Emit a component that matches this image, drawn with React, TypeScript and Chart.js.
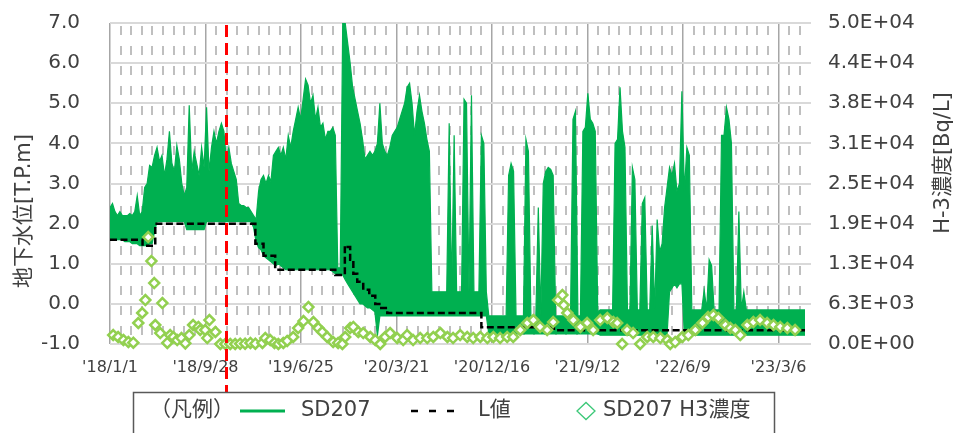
import React, { useEffect, useRef } from 'react';
import { Chart, registerables } from 'chart.js';

Chart.register(...registerables);

const FONT = '"DejaVu Sans", "Noto Sans CJK JP", sans-serif';
const TEXT = '#404040';

// x axis in days since 2018-01-01
const xMaxDay = 1965;
const majorTickDays = [0, 270, 540, 810, 1080, 1350, 1620, 1890];
const majorTickLabels = ["'18/1/1", "'18/9/28", "'19/6/25", "'20/3/21", "'20/12/16", "'21/9/12", "'22/6/9", "'23/3/6"];
const minorStepDays = 30;

const leftMin = -1;
const leftMax = 7;
const rightMax = 50000;
const rightStep = 6250;
const rightTickLabels = ['0.0E+00', '6.3E+03', '1.3E+04', '1.9E+04', '2.5E+04', '3.1E+04', '3.8E+04', '4.4E+04', '5.0E+04'];

// SD207 groundwater level, weekly high / low envelope (T.P.m)
const sdStepDays = 7;
const sdHigh = [
  2.4, 2.5, 2.3, 2.2, 2.3, 2.2, 2.2, 2.2, 2.25, 2.2,
  2.3, 2.7, 2.2, 2.3, 2.9, 3.0, 3.45, 3.4, 3.7, 3.9,
  3.55, 3.7, 3.2, 3.6, 4.3, 3.5, 3.3, 3.95, 3.6, 3.0,
  2.7, 2.9, 4.95, 3.3, 3.8, 3.5, 3.2, 3.9, 3.4, 4.9,
  3.3, 3.9, 4.3, 4.0, 4.3, 4.5, 4.3, 3.6, 3.9, 3.5,
  3.3, 3.1, 2.5, 2.45, 2.45, 2.4, 2.4, 2.3, 2.2, 2.1,
  2.8, 3.1, 3.2, 3.0, 3.2, 3.05, 3.7, 3.8, 3.9, 3.7,
  3.9, 3.6, 4.2, 3.9, 4.3, 4.6, 4.9, 4.6, 5.1, 5.6,
  5.45, 5.0, 5.2, 4.6, 4.9, 4.4, 4.5, 4.1, 4.3, 4.3,
  4.4, 4.2, 0.9, 0.9, 7.0, 7.0, 6.5, 6.0, 5.4, 5.1,
  4.8, 4.5, 4.1, 3.6, 3.7, 3.8, 3.7, 3.8, 4.0, 5.0,
  4.0, 3.8, 3.7, 3.9, 4.2, 4.3, 4.4, 4.6, 4.8, 5.0,
  5.4, 5.5, 5.0, 4.2, 4.8, 5.2, 4.8, 4.5, 4.1, 3.8,
  0.3, 0.3, 0.3, 0.3, 0.3, 0.3, 0.3, 4.5, 0.3, 4.2,
  0.3, 0.3, 0.3, 5.1, 5.0, 0.3, 5.2, 0.3, 0.3, 0.3,
  4.2, 4.0, 0.3, -0.3, -0.3, -0.3, -0.3, -0.3, -0.3, -0.3,
  -0.3, 3.2, 3.5, 3.3, -0.3, -0.3, -0.3, -0.3, 4.1, 3.8,
  -0.3, -0.3, -0.3, 2.4, -0.3, 3.0, 3.3, 3.4, 3.35, 3.2,
  -0.3, -0.3, -0.3, -0.3, -0.3, -0.3, -0.3, 4.6, 4.8, -0.3,
  -0.3, 4.3, 4.4, 5.25, 4.6, 4.5, 4.3, -0.2, -0.15, -0.15,
  -0.15, -0.15, -0.15, -0.15, 4.0, 4.1, 5.4, 4.3, 3.9, -0.15,
  -0.15, 3.4, 3.1, -0.15, -0.15, 2.5, 2.65, -0.15, -0.15, 1.95,
  -0.15, 2.1, 1.3, 1.5, 2.4, 2.9, 3.4, 3.2, 3.5, 2.8,
  3.0, 5.3, 2.8, 3.9, 3.7, -0.15, -0.15, -0.15, -0.15, -0.15,
  0.35, -0.15, 1.1, 0.95, -0.15, -0.15, -0.15, 4.2, 4.2, 4.9,
  4.6, 4.0, -0.15, -0.15, 2.3, -0.15, 0.3, -0.15, -0.15, -0.15,
  -0.15, -0.15, -0.15, -0.15, -0.15, -0.15, -0.15, -0.15, -0.15, -0.15,
  -0.15, -0.15, -0.15, -0.15, -0.15, -0.15, -0.15, -0.15, -0.15, -0.15,
  -0.15, -0.15,
];
const sdLow = [
  1.6, 1.6, 1.6, 1.6, 1.6, 1.6, 1.55, 1.55, 1.55, 1.5,
  1.5, 1.5, 1.45, 1.45, 1.45, 1.45, 1.5, 1.5, 1.8, 2.05,
  2.05, 2.05, 2.05, 2.05, 2.05, 2.05, 2.05, 2.05, 2.05, 2.05,
  2.05, 1.85, 1.85, 1.85, 1.85, 1.85, 1.85, 1.85, 1.85, 2.05,
  2.05, 2.05, 2.05, 2.05, 2.05, 2.05, 2.05, 2.05, 2.05, 2.05,
  2.05, 2.05, 2.05, 2.05, 2.05, 2.05, 2.05, 2.05, 1.9, 1.55,
  1.4, 1.35, 1.2, 1.15, 1.1, 1.05, 1.0, 0.95, 1.0, 0.95,
  0.9, 0.85, 0.85, 0.85, 0.85, 0.85, 0.85, 0.85, 0.85, 0.85,
  0.85, 0.85, 0.85, 0.85, 0.85, 0.85, 0.85, 0.85, 0.85, 0.85,
  0.8, 0.75, 0.72, 0.72, 0.72, 0.6, 0.5, 0.4, 0.3, 0.2,
  0.1, 0.0, 0.0, -0.05, -0.1, -0.1, -0.15, -0.2, -0.8, -0.3,
  -0.3, -0.3, -0.3, -0.3, -0.3, -0.3, -0.3, -0.3, -0.3, -0.3,
  -0.3, -0.3, -0.3, -0.3, -0.3, -0.3, -0.3, -0.3, -0.3, -0.3,
  -0.3, -0.3, -0.3, -0.3, -0.3, -0.3, -0.3, -0.3, -0.3, -0.3,
  -0.3, -0.3, -0.3, -0.3, -0.3, -0.3, -0.3, -0.3, -0.3, -0.3,
  -0.3, -0.3, -0.3, -0.75, -0.75, -0.75, -0.75, -0.75, -0.75, -0.75,
  -0.75, -0.75, -0.75, -0.75, -0.75, -0.75, -0.75, -0.75, -0.75, -0.75,
  -0.75, -0.75, -0.75, -0.75, -0.75, -0.75, -0.75, -0.75, -0.75, -0.75,
  -0.75, -0.75, -0.75, -0.75, -0.75, -0.75, -0.75, -0.75, -0.75, -0.75,
  -0.75, -0.75, -0.75, -0.75, -0.75, -0.75, -0.75, -0.75, -0.78, -0.78,
  -0.78, -0.78, -0.78, -0.78, -0.78, -0.78, -0.78, -0.78, -0.78, -0.78,
  -0.78, -0.78, -0.78, -0.78, -0.78, -0.78, -0.78, -0.78, -0.78, -0.78,
  -0.78, -0.78, -0.78, -0.78, -0.78, -0.78, 0.3, 0.4, 0.5, 0.4,
  0.5, 0.5, -0.78, -0.78, -0.78, -0.78, -0.78, -0.78, -0.78, -0.78,
  -0.78, -0.78, -0.78, -0.78, -0.78, -0.78, -0.78, -0.78, -0.78, -0.78,
  -0.78, -0.78, -0.78, -0.78, -0.78, -0.78, -0.78, -0.78, -0.78, -0.78,
  -0.78, -0.78, -0.78, -0.78, -0.78, -0.78, -0.78, -0.78, -0.78, -0.78,
  -0.78, -0.78, -0.78, -0.78, -0.78, -0.78, -0.78, -0.78, -0.78, -0.78,
  -0.78, -0.78,
];

// L値 (step changes: day, value)
const lDays = [0, 92, 128, 411, 434, 467, 637, 664, 672, 679, 688, 699, 716, 733, 750, 767, 784, 1050, 1255, 1965];
const lValues = [1.6, 1.45, 2.0, 1.5, 1.2, 0.85, 0.72, 1.45, 1.42, 1.1, 0.75, 0.55, 0.35, 0.2, 0.0, -0.1, -0.23, -0.58, -0.66, -0.66];

// SD207 H3 concentration (Bq/L)
const h3Days = [9, 23, 38, 52, 66, 80, 91, 100, 108, 117, 125, 128, 142, 148, 162, 170, 179, 190, 202, 213, 224, 235, 250, 255, 269, 275, 281, 298, 312, 326, 340, 354, 368, 382, 397, 411, 431, 439, 453, 465, 476, 490, 501, 518, 532, 547, 561, 575, 589, 600, 614, 631, 645, 657, 665, 679, 688, 702, 716, 736, 750, 764, 778, 792, 812, 829, 840, 857, 877, 897, 914, 934, 954, 970, 990, 1010, 1027, 1047, 1067, 1084, 1103, 1123, 1140, 1160, 1180, 1197, 1216, 1236, 1253, 1267, 1279, 1283, 1293, 1310, 1330, 1349, 1366, 1386, 1406, 1423, 1434, 1448, 1462, 1479, 1499, 1519, 1536, 1556, 1576, 1584, 1598, 1618, 1635, 1655, 1675, 1691, 1706, 1720, 1740, 1754, 1768, 1782, 1802, 1819, 1838, 1858, 1876, 1895, 1915, 1937];
const h3Values = [1400, 1090, 620, 310, 200, 3270, 4830, 6850, 16650, 12920, 9490, 2960, 1710, 6380, 160, 1400, 1090, 620, 930, 100, 1400, 2960, 2650, 2180, 2180, 930, 3730, 1870, 0, 0, 0, 0, 50, 50, 160, 50, 160, 930, 620, 160, 0, 160, 470, 1090, 2490, 3580, 5760, 3420, 2490, 1870, 1090, 310, 160, 0, 1090, 2490, 2650, 1870, 1710, 1090, 620, 0, 1090, 1710, 930, 620, 1400, 620, 930, 930, 1090, 1710, 1090, 930, 1400, 1090, 930, 1090, 930, 1090, 930, 1090, 1090, 2180, 3270, 3730, 2650, 2180, 3420, 6850, 7620, 6070, 4830, 3730, 2650, 3270, 2180, 3730, 4050, 3420, 3270, 0, 2180, 1710, 0, 1090, 1090, 930, 620, 0, 310, 1090, 1400, 2180, 3270, 4200, 4510, 4050, 2960, 2490, 2180, 1400, 2960, 3420, 3730, 3270, 2960, 2650, 2490, 2180];

// red dashed marker (2018-11-26)
const markerDay = 329;

const legendLabels = ['（凡例）', 'SD207', 'L値', 'SD207 H3濃度'];
const leftTitle = '地下水位[T.P.m]';
const rightTitle = 'H-3濃度[Bq/L]';

const minorDays: number[] = [];
for (let d = minorStepDays; d < xMaxDay; d += minorStepDays) {
  if (!majorTickDays.includes(d)) minorDays.push(d);
}

const minorGridPlugin = {
  id: 'minorGrid',
  beforeDatasetsDraw(chart: any) {
    const { ctx, chartArea, scales } = chart;
    ctx.save();
    ctx.strokeStyle = '#BFBFBF';
    ctx.lineWidth = 2;
    ctx.setLineDash([9, 11]);
    ctx.lineDashOffset = -3;
    ctx.beginPath();
    minorDays.forEach((d) => {
      const x = Math.round(scales.x.getPixelForValue(d));
      ctx.moveTo(x, chartArea.top);
      ctx.lineTo(x, chartArea.bottom);
    });
    ctx.stroke();
    ctx.restore();
  },
};

const decorPlugin = {
  id: 'decor',
  afterDraw(chart: any) {
    const { ctx, chartArea, scales } = chart;
    ctx.save();
    // red dashed vertical marker
    const mx = Math.round(scales.x.getPixelForValue(markerDay)) + 0.5;
    ctx.strokeStyle = '#FF0000';
    ctx.lineWidth = 3;
    ctx.setLineDash([12, 6]);
    ctx.beginPath();
    ctx.moveTo(mx, chartArea.top + 2);
    ctx.lineTo(mx, 392);
    ctx.stroke();
    ctx.setLineDash([]);

    // axis titles
    ctx.fillStyle = TEXT;
    ctx.font = `21px ${FONT}`;
    ctx.textAlign = 'center';
    ctx.textBaseline = 'middle';
    ctx.save();
    ctx.translate(25, 211);
    ctx.rotate(-Math.PI / 2);
    ctx.fillText(leftTitle, 0, 0);
    ctx.restore();
    ctx.save();
    ctx.translate(944, 163);
    ctx.rotate(-Math.PI / 2);
    ctx.fillText(rightTitle, 0, 0);
    ctx.restore();

    // legend box
    ctx.fillStyle = '#FFFFFF';
    ctx.fillRect(133, 392, 642, 50);
    ctx.strokeStyle = '#595959';
    ctx.lineWidth = 1.5;
    ctx.strokeRect(133.5, 392.5, 641, 60);
    const ly = 411;
    ctx.fillStyle = TEXT;
    ctx.textAlign = 'left';
    ctx.textBaseline = 'middle';
    ctx.font = `21px ${FONT}`;
    ctx.fillText(legendLabels[0], 150, ly);
    ctx.strokeStyle = '#00B050';
    ctx.lineWidth = 3;
    ctx.beginPath();
    ctx.moveTo(240, ly);
    ctx.lineTo(285, ly);
    ctx.stroke();
    ctx.fillText(legendLabels[1], 301, ly);
    ctx.strokeStyle = '#000000';
    ctx.lineWidth = 2.5;
    ctx.setLineDash([7, 11]);
    ctx.beginPath();
    ctx.moveTo(411, ly);
    ctx.lineTo(455, ly);
    ctx.stroke();
    ctx.setLineDash([]);
    ctx.fillText(legendLabels[2], 478, ly);
    ctx.strokeStyle = '#3CC878';
    ctx.lineWidth = 1.3;
    ctx.beginPath();
    ctx.moveTo(577, ly);
    ctx.lineTo(586, ly - 8.5);
    ctx.lineTo(595, ly);
    ctx.lineTo(586, ly + 8.5);
    ctx.closePath();
    ctx.stroke();
    ctx.fillText(legendLabels[3], 603, ly);
    ctx.restore();
  },
};

const noScalePadding = (s: any) => {
  s.paddingTop = 0;
  s.paddingBottom = 0;
};

export default function App() {
  const ref = useRef<HTMLCanvasElement>(null);
  useEffect(() => {
    const sdPts = (arr: number[]) => arr.map((v, i) => ({ x: i * sdStepDays, y: v }));
    const chart = new Chart(ref.current as HTMLCanvasElement, {
      type: 'line',
      data: {
        datasets: [
          {
            label: 'SD207 H3濃度',
            data: h3Days.map((d, i) => ({ x: d, y: h3Values[i] })),
            yAxisID: 'y1',
            showLine: false,
            pointStyle: 'rectRot',
            pointRadius: 5,
            pointBorderWidth: 2.5,
            pointBorderColor: '#92D050',
            pointBackgroundColor: '#FFFFFF',
            borderColor: '#92D050',
            backgroundColor: '#FFFFFF',
            clip: false,
          } as any,
          {
            label: 'L値',
            data: lDays.map((d, i) => ({ x: d, y: lValues[i] })),
            yAxisID: 'y',
            borderColor: '#000000',
            borderWidth: 2.5,
            borderDash: [7, 3.5],
            stepped: 'before',
            pointRadius: 0,
            fill: false,
          },
          {
            label: 'SD207',
            data: sdPts(sdHigh),
            yAxisID: 'y',
            borderColor: '#00B050',
            borderWidth: 1.2,
            pointRadius: 0,
            fill: false,
          },
          {
            label: 'SD207 low',
            data: sdPts(sdLow),
            yAxisID: 'y',
            borderColor: '#00B050',
            borderWidth: 1.2,
            pointRadius: 0,
            backgroundColor: '#00B050',
            fill: '-1',
          },
        ],
      },
      options: {
        responsive: false,
        devicePixelRatio: 1,
        animation: false,
        events: [],
        layout: { autoPadding: false, padding: { top: 23, left: 0, right: 0, bottom: 0 } },
        plugins: {
          legend: { display: false },
          tooltip: { enabled: false },
          title: { display: false },
        },
        scales: {
          x: {
            type: 'linear',
            position: 'bottom',
            min: 0,
            max: xMaxDay,
            afterBuildTicks: (s: any) => {
              s.ticks = majorTickDays.map((v) => ({ value: v }));
            },
            afterFit: (s: any) => {
              s.height = 89;
              s.paddingLeft = 0;
              s.paddingRight = 0;
            },
            ticks: {
              autoSkip: false,
              maxRotation: 0,
              minRotation: 0,
              padding: 14,
              color: TEXT,
              font: { family: FONT, size: 16 },
              callback: (v: any) => {
                const i = majorTickDays.indexOf(Number(v));
                return i >= 0 ? majorTickLabels[i] : '';
              },
            },
            grid: { color: '#A6A6A6', lineWidth: 1.5, drawTicks: false },
            border: { display: false },
          },
          y: {
            type: 'linear',
            position: 'left',
            min: leftMin,
            max: leftMax,
            afterFit: (s: any) => {
              s.width = 110;
              noScalePadding(s);
            },
            ticks: {
              stepSize: 1,
              padding: 30,
              color: TEXT,
              font: { family: FONT, size: 20 },
              callback: (v: any) => Number(v).toFixed(1),
            },
            grid: { color: '#D9D9D9', lineWidth: 2, drawTicks: false },
            border: { display: false },
          },
          y1: {
            type: 'linear',
            position: 'right',
            min: 0,
            max: rightMax,
            afterFit: (s: any) => {
              s.width = 152;
              noScalePadding(s);
            },
            ticks: {
              stepSize: rightStep,
              padding: 17,
              color: TEXT,
              font: { family: FONT, size: 20 },
              callback: (_v: any, i: number) => rightTickLabels[i],
            },
            grid: { drawOnChartArea: false, drawTicks: true, tickLength: 6, color: '#D9D9D9', lineWidth: 2 },
            border: { display: false },
          },
        },
      } as any,
      plugins: [minorGridPlugin, decorPlugin],
    });
    return () => chart.destroy();
  }, []);
  return (
    <div style={{ position: 'absolute', left: 0, top: 0, width: 957, height: 433, background: '#FFFFFF' }}>
      <canvas ref={ref} width={957} height={433} style={{ display: 'block', width: 957, height: 433 }} />
    </div>
  );
}
